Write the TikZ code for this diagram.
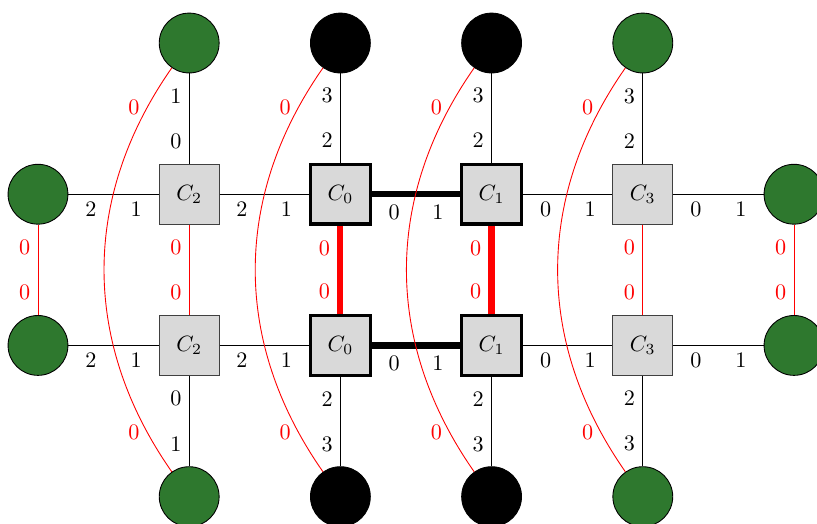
\documentclass[tikz,border=0pt]{standalone}
\usetikzlibrary{positioning}
\definecolor{leafgreen}{RGB}{46,120,46}
\definecolor{cellgray}{RGB}{217,217,217}
\tikzstyle{cell} = [rectangle, draw=black!75, fill=cellgray, minimum size=0.95cm, inner sep=0pt]
\tikzstyle{core} = [cell, draw=black, line width=1.6pt]
\tikzstyle{leaf} = [circle, draw, fill=leafgreen, minimum size=0.95cm, inner sep=0pt]
\tikzstyle{port} = [circle, draw, fill=black, minimum size=0.95cm, inner sep=0pt]
\tikzstyle{bond} = [line width=2.8pt]
\tikzstyle{redbond} = [red, line width=2.8pt]

\begin{document}
\begin{tikzpicture}[node distance=2.4cm, on grid]
    \useasboundingbox (-0.603,-5.219) rectangle (12.365,3.083);

    % upper row
    \node [leaf] (lu) {};
    \node [cell, right= of lu] (c2u) {$C_2$};
    \node [core, right= of c2u] (c0u) {$C_0$};
    \node [core, right= of c0u] (c1u) {$C_1$};
    \node [cell, right= of c1u] (c3u) {$C_3$};
    \node [leaf, right= of c3u] (ru) {};

    % lower row
    \node [leaf, below= of lu] (ld) {};
    \node [cell, below= of c2u] (c2d) {$C_2$};
    \node [core, below= of c0u] (c0d) {$C_0$};
    \node [core, below= of c1u] (c1d) {$C_1$};
    \node [cell, below= of c3u] (c3d) {$C_3$};
    \node [leaf, below= of ru] (rd) {};

    % outer ends
    \node [leaf, above= of c2u] (t2) {};
    \node [port, above= of c0u] (t0) {};
    \node [port, above= of c1u] (t1) {};
    \node [leaf, above= of c3u] (t3) {};
    \node [leaf, below= of c2d] (b2) {};
    \node [port, below= of c0d] (b0) {};
    \node [port, below= of c1d] (b1) {};
    \node [leaf, below= of c3d] (b3) {};

    \draw (lu) -- node[pos=.25,below]{2} node[pos=.75,below]{1} (c2u);
    \draw (c2u) -- node[pos=.25,below]{2} node[pos=.75,below]{1} (c0u);
    \draw[bond] (c0u) -- node[pos=.25,below]{0} node[pos=.75,below]{1} (c1u);
    \draw (c1u) -- node[pos=.25,below]{0} node[pos=.75,below]{1} (c3u);
    \draw (c3u) -- node[pos=.25,below]{0} node[pos=.75,below]{1} (ru);

    \draw (ld) -- node[pos=.25,below]{2} node[pos=.75,below]{1} (c2d);
    \draw (c2d) -- node[pos=.25,below]{2} node[pos=.75,below]{1} (c0d);
    \draw[bond] (c0d) -- node[pos=.25,below]{0} node[pos=.75,below]{1} (c1d);
    \draw (c1d) -- node[pos=.25,below]{0} node[pos=.75,below]{1} (c3d);
    \draw (c3d) -- node[pos=.25,below]{0} node[pos=.75,below]{1} (rd);

    \draw (t2) -- node[pos=.25,left]{1} node[pos=.75,left]{0} (c2u);
    \draw (t0) -- node[pos=.25,left]{3} node[pos=.75,left]{2} (c0u);
    \draw (t1) -- node[pos=.25,left]{3} node[pos=.75,left]{2} (c1u);
    \draw (t3) -- node[pos=.25,left]{3} node[pos=.75,left]{2} (c3u);
    \draw (c2d) -- node[pos=.25,left]{0} node[pos=.75,left]{1} (b2);
    \draw (c0d) -- node[pos=.25,left]{2} node[pos=.75,left]{3} (b0);
    \draw (c1d) -- node[pos=.25,left]{2} node[pos=.75,left]{3} (b1);
    \draw (c3d) -- node[pos=.25,left]{2} node[pos=.75,left]{3} (b3);

    % red links between the rows
    \draw[red] (lu) -- node[pos=.25,left]{0} node[pos=.75,left]{0} (ld);
    \draw[red] (c2u) -- node[pos=.25,left]{0} node[pos=.75,left]{0} (c2d);
    \draw[redbond] (c0u) -- node[pos=.25,left]{0} node[pos=.75,left]{0} (c0d);
    \draw[redbond] (c1u) -- node[pos=.25,left]{0} node[pos=.75,left]{0} (c1d);
    \draw[red] (c3u) -- node[pos=.25,left]{0} node[pos=.75,left]{0} (c3d);
    \draw[red] (ru) -- node[pos=.25,left]{0} node[pos=.75,left]{0} (rd);

    \draw[red] (t2) to[out=235,in=125] node[pos=.1,left]{0} node[pos=.9,left]{0} (b2);
    \draw[red] (t0) to[out=235,in=125] node[pos=.1,left]{0} node[pos=.9,left]{0} (b0);
    \draw[red] (t1) to[out=235,in=125] node[pos=.1,left]{0} node[pos=.9,left]{0} (b1);
    \draw[red] (t3) to[out=235,in=125] node[pos=.1,left]{0} node[pos=.9,left]{0} (b3);
\end{tikzpicture}
\end{document}
